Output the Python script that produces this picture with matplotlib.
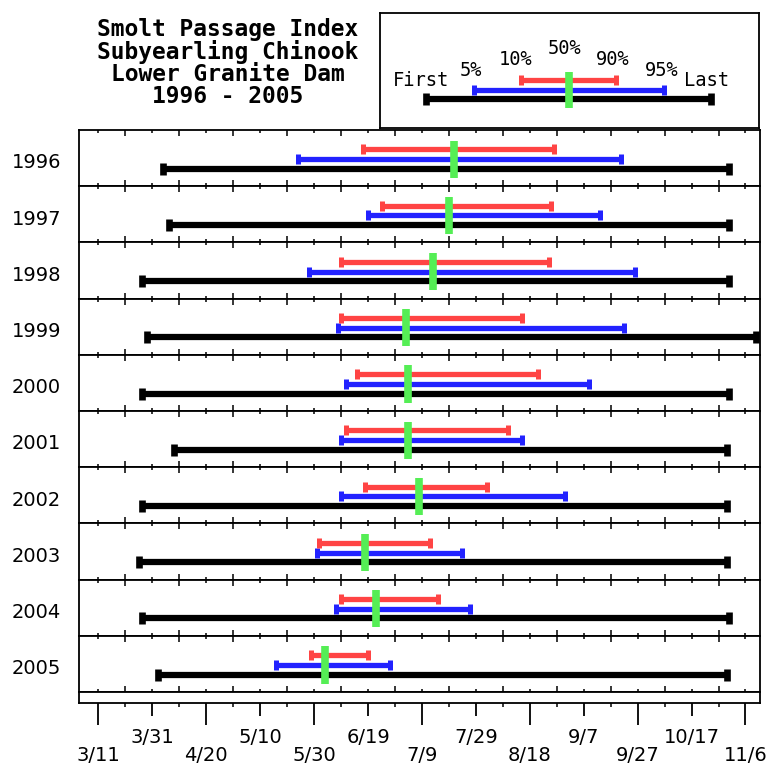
import matplotlib.pyplot as plt
import pandas as pd

# Passage dates per year (month/day)
years = [1996, 1997, 1998, 1999, 2000, 2001, 2002, 2003, 2004, 2005]
first = ["4/4", "4/6", "3/27", "3/29", "3/27", "4/8", "3/27", "3/26", "3/27", "4/2"]
pct5 = ["5/24", "6/19", "5/28", "6/8", "6/11", "6/9", "6/9", "5/31", "6/7", "5/16"]
pct10 = ["6/17", "6/24", "6/9", "6/9", "6/15", "6/11", "6/18", "6/1", "6/9", "5/29"]
pct50 = ["7/21", "7/19", "7/13", "7/3", "7/4", "7/4", "7/8", "6/18", "6/22", "6/3"]
pct90 = ["8/27", "8/26", "8/25", "8/15", "8/21", "8/10", "8/2", "7/12", "7/15", "6/19"]
pct95 = ["9/21", "9/13", "9/26", "9/22", "9/9", "8/15", "8/31", "7/24", "7/27", "6/27"]
last = ["10/31", "10/31", "10/31", "11/10", "10/31", "10/30", "10/30", "10/30", "10/31", "10/30"]

tick_labels = ["3/11", "3/31", "4/20", "5/10", "5/30", "6/19", "7/9",
               "7/29", "8/18", "9/7", "9/27", "10/17", "11/6"]

# schematic key: First, 5%, 10%, 50%, 90%, 95%, Last
key_vals = [46, 94, 141, 189, 236, 284, 331]
key_names = ["First", "5%", "10%", "50%", "90%", "95%", "Last"]

RED = "#ff4444"
BLUE = "#2222ff"
GREEN = "#55ee55"


def to_day(md):
    # days after 3/11
    d = pd.to_datetime(f"2001/{md}", format="%Y/%m/%d")
    return (d - pd.Timestamp("2001-03-11")).days


def draw_bars(ax, lo_hi_black, lo_hi_blue, lo_hi_red, mid, y, g):
    ax.plot(lo_hi_black, [y[0]] * 2, color="black", lw=4.5, marker="|",
            ms=8, mew=4.8, solid_capstyle="butt")
    ax.plot(lo_hi_blue, [y[1]] * 2, color=BLUE, lw=3.8, marker="|",
            ms=7.5, mew=3.6, solid_capstyle="butt")
    ax.plot(lo_hi_red, [y[2]] * 2, color=RED, lw=3.8, marker="|",
            ms=7.5, mew=3.6, solid_capstyle="butt")
    ax.vlines(mid, g[0], g[1], color=GREEN, lw=5.5, zorder=5)


W, H = 767, 766
fig = plt.figure(figsize=(W / 100, H / 100), dpi=100)
gs = fig.add_gridspec(11, 1, height_ratios=[56.1] * 10 + [11.5], hspace=0,
                      left=79 / W, right=759.5 / W, top=1 - 130 / H, bottom=1 - 703.5 / H)

XMIN, XMAX = -7.2, 245.2
bar_y = (0.31, 0.48, 0.655)
green_y = (0.15, 0.81)

for i, year in enumerate(years):
    ax = fig.add_subplot(gs[i])
    draw_bars(ax, [to_day(first[i]), to_day(last[i])],
              [to_day(pct5[i]), to_day(pct95[i])],
              [to_day(pct10[i]), to_day(pct90[i])],
              to_day(pct50[i]), bar_y, green_y)
    ax.set_xlim(XMIN, XMAX)
    ax.set_ylim(0, 1)
    ax.set_xticks(range(10, 250, 20))
    ax.set_xticks(range(0, 250, 20), minor=True)
    ax.tick_params(axis="x", which="both", direction="in", top=True, bottom=True,
                   labelbottom=False, width=1.1)
    ax.tick_params(axis="x", which="major", length=4.5)
    ax.tick_params(axis="x", which="minor", length=2.5)
    ax.set_yticks([0.45])
    ax.set_yticklabels([str(year)], fontsize=14)
    ax.tick_params(axis="y", length=0, pad=13)
    for s in ax.spines.values():
        s.set_linewidth(1.3)

# bottom strip with the date axis
ax_s = fig.add_subplot(gs[10])
ax_s.set_xlim(XMIN, XMAX)
ax_s.set_yticks([])
ax_s.set_xticks(range(0, 250, 20))
ax_s.set_xticklabels([("\n" + t) if k % 2 == 0 else t for k, t in enumerate(tick_labels)],
                     fontsize=14, linespacing=0.95)
ax_s.set_xticks(range(0, 250, 10), minor=True)
ax_s.tick_params(axis="x", which="major", direction="out", length=15.5, width=1.3, pad=2)
ax_s.tick_params(axis="x", which="minor", direction="out", length=3, width=1.1)
for t in ax_s.xaxis.get_major_ticks()[1::2]:
    t.tick1line.set_markersize(9)
for s in ax_s.spines.values():
    s.set_linewidth(1.3)

# key box
axk = fig.add_axes([380 / W, 1 - 128 / H, 379 / W, 115 / H])
axk.set_xlim(0, 379)
axk.set_ylim(115, 0)
axk.set_xticks([])
axk.set_yticks([])
for s in axk.spines.values():
    s.set_linewidth(1.3)
draw_bars(axk, [key_vals[0], key_vals[6]], [key_vals[1], key_vals[5]],
          [key_vals[2], key_vals[4]], key_vals[3], (86, 77, 67), (59, 95))
label_y = [67, 57, 47, 36, 47, 57, 67]
label_dx = [-5, -3, -5, -4, -3, -2, -4]
for name, xv, yv, dx in zip(key_names, key_vals, label_y, label_dx):
    axk.text(xv + dx, yv, name, ha="center", va="center",
             family="DejaVu Sans Mono", fontsize=13.5)

fig.text(228 / W, 1 - 63 / H,
         "Smolt Passage Index\nSubyearling Chinook\nLower Granite Dam\n1996 - 2005",
         ha="center", va="center", family="DejaVu Sans Mono", weight="bold",
         fontsize=16.5, linespacing=0.95)

fig.savefig("out.png", dpi=100)
